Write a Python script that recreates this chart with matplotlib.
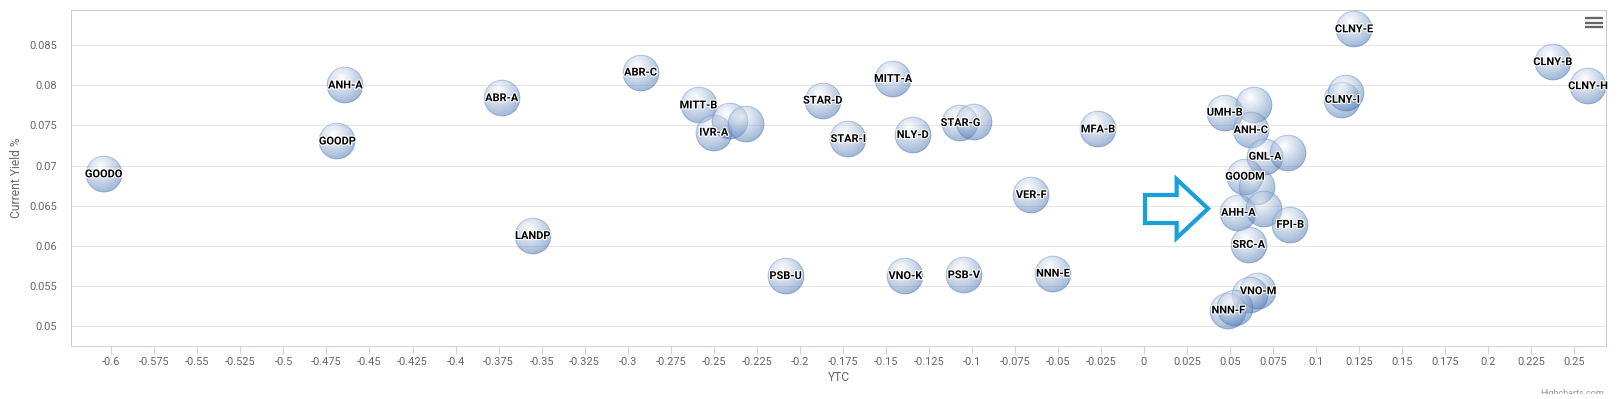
import numpy as np
import matplotlib
matplotlib.use('Agg')
import matplotlib.pyplot as plt
from matplotlib.offsetbox import OffsetImage, AnnotationBbox
from matplotlib.patches import Polygon, Rectangle
from matplotlib.lines import Line2D
import matplotlib.patheffects as pe

plt.rcParams['font.family'] = ['Roboto', 'DejaVu Sans']

# ---------------- data ----------------
names = ['GOODO', 'ANH-A', 'GOODP', 'ABR-A', 'LANDP', 'ABR-C', 'MITT-B', 'IVR-A', '', '',
         'PSB-U', 'STAR-D', 'STAR-I', 'MITT-A', 'VNO-K', 'NLY-D', 'STAR-G', '', 'PSB-V',
         'VER-F', 'NNN-E', 'MFA-B', 'UMH-B', '', 'ANH-C', 'GNL-A', '', 'GOODM', '',
         'AHH-A', '', 'FPI-B', 'SRC-A', 'VNO-M', '', 'NNN-F', '', 'CLNY-E', 'CLNY-I', '',
         'CLNY-B', 'CLNY-H']
ytc = [-0.6044, -0.4640, -0.4686, -0.3732, -0.3551, -0.2925, -0.2588, -0.2500, -0.2405, -0.2310,
       -0.2082, -0.1866, -0.1718, -0.1457, -0.1386, -0.1343, -0.1066, -0.0988, -0.1046,
       -0.0655, -0.0529, -0.0267, 0.0470, 0.0640, 0.0621, 0.0704, 0.0838, 0.0588, 0.0656,
       0.0549, 0.0697, 0.0850, 0.0609, 0.0664, 0.0616, 0.0490, 0.0529, 0.1221, 0.1153, 0.1172,
       0.2376, 0.2581]
yields = [0.0689, 0.0800, 0.0730, 0.0784, 0.0612, 0.0816, 0.0775, 0.0741, 0.0755, 0.0752,
          0.0562, 0.0781, 0.0733, 0.0808, 0.0562, 0.0738, 0.0753, 0.0754, 0.0563,
          0.0663, 0.0565, 0.0745, 0.0766, 0.0775, 0.0744, 0.0711, 0.0716, 0.0686, 0.0673,
          0.0641, 0.0646, 0.0626, 0.0601, 0.0543, 0.0538, 0.0519, 0.0522, 0.0870, 0.0782, 0.0790,
          0.0829, 0.0799]

x_ticks = [-0.6, -0.575, -0.55, -0.525, -0.5, -0.475, -0.45, -0.425, -0.4, -0.375, -0.35,
           -0.325, -0.3, -0.275, -0.25, -0.225, -0.2, -0.175, -0.15, -0.125, -0.1, -0.075,
           -0.05, -0.025, 0, 0.025, 0.05, 0.075, 0.1, 0.125, 0.15, 0.175, 0.2, 0.225, 0.25]
x_tick_labels = ['-0.6', '-0.575', '-0.55', '-0.525', '-0.5', '-0.475', '-0.45', '-0.425', '-0.4',
                 '-0.375', '-0.35', '-0.325', '-0.3', '-0.275', '-0.25', '-0.225', '-0.2', '-0.175',
                 '-0.15', '-0.125', '-0.1', '-0.075', '-0.05', '-0.025', '0', '0.025', '0.05',
                 '0.075', '0.1', '0.125', '0.15', '0.175', '0.2', '0.225', '0.25']
y_ticks = [0.05, 0.055, 0.06, 0.065, 0.07, 0.075, 0.08, 0.085]
y_tick_labels = ['0.05', '0.055', '0.06', '0.065', '0.07', '0.075', '0.08', '0.085']

# arrow annotation outline (data coordinates)
arrow_x = [0.0006, 0.0190, 0.0190, 0.0372, 0.0190, 0.0190, 0.0006]
arrow_y = [0.06632, 0.06632, 0.06828, 0.06462, 0.06095, 0.06282, 0.06282]

# ---------------- figure ----------------
W, H, DPI = 1621, 399, 100
fig = plt.figure(figsize=(W / DPI, H / DPI), dpi=DPI)
fig.patch.set_facecolor('white')
L, R_, T, B = 71.4, 1605.7, 10.0, 346.0
ax = fig.add_axes([L / W, 1 - B / H, (R_ - L) / W, (B - T) / H])
ax.set_xlim(-0.6232, 0.2683)
ax.set_ylim(0.04747, 0.08941)

PX = 72.0 / DPI  # points per pixel

ax.set_xticks(x_ticks)
ax.set_xticklabels(x_tick_labels)
ax.set_yticks(y_ticks)
ax.set_yticklabels(y_tick_labels)
ax.tick_params(axis='x', length=8 * PX, width=1 * PX, color='#ccd6eb', pad=2,
               labelsize=11 * PX, labelcolor='#666666')
ax.tick_params(axis='y', length=0, pad=10.2, labelsize=11 * PX, labelcolor='#666666')
ax.grid(axis='y', color='#e6e6e6', lw=1 * PX)
ax.set_axisbelow(True)
for s in ax.spines.values():
    s.set_color('#cccccc')
    s.set_linewidth(1 * PX)
ax.spines['bottom'].set_color('#ccd6eb')

ax.set_xlabel('YTC', fontsize=12 * PX, color='#666666', labelpad=3)
ax.set_ylabel('Current Yield %', fontsize=12 * PX, color='#666666', labelpad=5)


# bubble sprite with radial gradient (Highcharts-like)
def bubble_image(R=18.3, base=(66, 112, 175)):
    n = int(np.ceil(2 * R)) + 3
    c = n / 2.0
    yy, xx = np.mgrid[0:n, 0:n] + 0.5
    d = np.hypot(xx - c, yy - c)
    cov = np.clip(R - d + 0.5, 0, 1)
    hx, hy = c - R + 0.4 * 2 * R, c - R + 0.3 * 2 * R
    t = np.clip(np.hypot(xx - hx, yy - hy) / (0.7 * 2 * R), 0, 1)
    b = np.array(base) / 255.0
    rgb = (1 - t)[..., None] * np.ones(3) + t[..., None] * b
    a_fill = 0.5 * cov
    ring = np.clip(1 - np.abs(d - (R - 0.6)), 0, 1) * 0.25 * (cov > 0)
    a_out = ring + a_fill * (1 - ring)
    rgb_out = (b * ring[..., None] + rgb * (a_fill * (1 - ring))[..., None]) / np.maximum(a_out, 1e-6)[..., None]
    img = np.dstack([rgb_out, a_out])
    return np.clip(img, 0, 1)


sprite = bubble_image()
for i, (x, y) in enumerate(zip(ytc, yields)):
    ab = AnnotationBbox(OffsetImage(sprite, zoom=1, dpi_cor=False), (x, y),
                        frameon=False, pad=0, box_alignment=(0.5, 0.5),
                        xycoords='data', zorder=3 + i * 0.001)
    ax.add_artist(ab)

for name, x, y in zip(names, ytc, yields):
    if name:
        ax.text(x, y, name, ha='center', va='center', fontsize=11 * PX, fontweight='bold',
                color='black', zorder=10,
                path_effects=[pe.withStroke(linewidth=1.6, foreground='white')])

# arrow annotation
ax.add_patch(Polygon(list(zip(arrow_x, arrow_y)), closed=True, fill=False,
                     edgecolor='#17a0db', lw=4.2 * PX, joinstyle='miter', zorder=2.5))

# context-menu icon
for yb in (17.8, 22.5, 27.2):
    fig.add_artist(Line2D([1585 / W, 1603 / W], [1 - yb / H] * 2, color='#666666',
                          lw=2.3 * PX, transform=fig.transFigure, solid_capstyle='butt'))

# credits (only the top of the text is visible in the screenshot)
fig.text(1604 / W, 1 - 389.5 / H, 'Highcharts.com', ha='right', va='top',
         fontsize=9 * PX, color='#999999', zorder=1)
fig.add_artist(Rectangle((1500 / W, 0), 121 / W, (H - 393.5) / H, transform=fig.transFigure,
                         facecolor='white', edgecolor='none', zorder=5))

fig.savefig('out.png', dpi=DPI, facecolor='white')
